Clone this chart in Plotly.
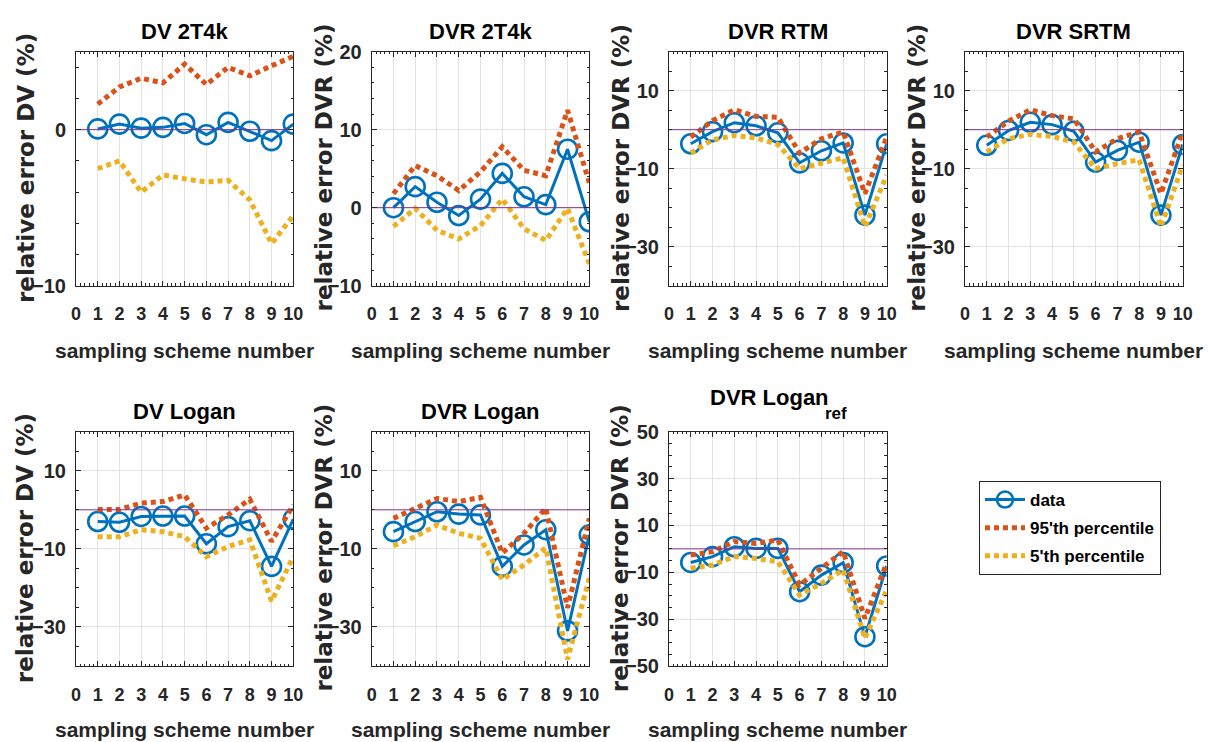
import plotly.graph_objects as go

# sampling scheme numbers on the x axis
schemes = [1, 2, 3, 4, 5, 6, 7, 8, 9, 10]
x_tick_vals = [0, 1, 2, 3, 4, 5, 6, 7, 8, 9, 10]

# DV 2T4k
dv_2t4k_data = [0.05, 0.36, 0.1, 0.15, 0.4, -0.32, 0.47, -0.1, -0.7, 0.36]
dv_2t4k_p95 = [1.64, 2.74, 3.3, 3.0, 4.2, 2.9, 4.0, 3.45, 4.1, 4.7]
dv_2t4k_p5 = [-2.5, -2.0, -4.0, -2.9, -3.15, -3.35, -3.25, -4.5, -7.3, -5.5]

# DVR 2T4k
dvr_2t4k_data = [0.0, 2.7, 0.7, -1.0, 1.1, 4.4, 1.4, 0.4, 7.5, -1.8]
dvr_2t4k_p95 = [1.8, 5.4, 4.1, 2.2, 4.6, 7.8, 4.8, 4.1, 12.5, 3.2]
dvr_2t4k_p5 = [-2.4, -0.1, -2.9, -4.0, -2.3, 1.1, -2.7, -4.2, -0.1, -7.2]

# DVR RTM
dvr_rtm_data = [-3.6, -0.5, 1.8, 1.0, -0.8, -8.5, -5.4, -3.4, -21.9, -3.6]
dvr_rtm_p95 = [-1.9, 2.3, 5.1, 3.4, 3.2, -6.0, -2.3, -0.6, -16.4, -1.9]
dvr_rtm_p5 = [-6.0, -2.6, -1.5, -2.1, -3.8, -10.0, -8.6, -7.2, -24.9, -11.7]

# DVR SRTM
dvr_srtm_data = [-4.0, -0.2, 1.9, 1.3, -0.4, -8.3, -5.3, -3.2, -21.9, -3.8]
dvr_srtm_p95 = [-1.9, 2.2, 5.1, 3.6, 2.8, -5.7, -2.3, -0.6, -16.4, -0.6]
dvr_srtm_p5 = [-5.7, -2.3, -1.2, -1.7, -3.2, -10.0, -8.7, -7.7, -24.9, -9.1]

# DV Logan
dv_logan_data = [-3.0, -3.2, -1.7, -1.6, -1.6, -8.7, -4.3, -2.8, -14.5, -2.4]
dv_logan_p95 = [0.1, 0.1, 1.7, 2.1, 3.8, -4.7, -1.3, 2.7, -8.1, 1.2]
dv_logan_p5 = [-6.9, -6.9, -5.1, -5.6, -6.9, -12.0, -9.4, -7.7, -23.4, -12.0]

# DVR Logan
dvr_logan_data = [-5.6, -3.0, -0.5, -1.1, -1.3, -14.5, -9.0, -5.1, -31.0, -6.4]
dvr_logan_p95 = [-2.2, 0.4, 2.9, 2.1, 3.2, -11.1, -6.0, 0.4, -25.1, -2.2]
dvr_logan_p5 = [-9.2, -6.9, -3.9, -6.0, -7.3, -17.9, -14.1, -9.8, -38.3, -17.5]

# DVR Logan_ref
dvr_loganref_data = [-5.8, -3.3, 0.9, 0.2, 0.2, -18.3, -11.2, -5.9, -37.5, -7.3]
dvr_loganref_p95 = [-2.6, -1.2, 3.1, 2.3, 3.8, -15.4, -8.3, -1.2, -29.7, -6.0]
dvr_loganref_p5 = [-8.3, -6.9, -3.3, -4.1, -5.5, -19.7, -14.7, -9.0, -38.2, -17.6]

# axis settings per panel: y range, labelled y ticks, minor y step
yr_small = [-10, 5]
yt_small = [-10, 0]
yr_2t4k = [-10, 20]
yt_2t4k = [-10, 0, 10, 20]
yr_mid = [-40, 20]
yt_mid = [-30, -10, 10]
yr_wide = [-50, 50]
yt_wide = [-50, -30, -10, 10, 30, 50]

# (title, subscript, y label, series..., y range, y ticks, minor y step)
panels = [
    ("DV 2T4k", "", "relative error DV (%)", dv_2t4k_data, dv_2t4k_p95, dv_2t4k_p5,
     yr_small, yt_small, 2),
    ("DVR 2T4k", "", "relative error DVR (%)", dvr_2t4k_data, dvr_2t4k_p95, dvr_2t4k_p5,
     yr_2t4k, yt_2t4k, 2),
    ("DVR RTM", "", "relative error DVR (%)", dvr_rtm_data, dvr_rtm_p95, dvr_rtm_p5,
     yr_mid, yt_mid, 5),
    ("DVR SRTM", "", "relative error DVR (%)", dvr_srtm_data, dvr_srtm_p95, dvr_srtm_p5,
     yr_mid, yt_mid, 5),
    ("DV Logan", "", "relative error DV (%)", dv_logan_data, dv_logan_p95, dv_logan_p5,
     yr_mid, yt_mid, 5),
    ("DVR Logan", "", "relative error DVR (%)", dvr_logan_data, dvr_logan_p95, dvr_logan_p5,
     yr_mid, yt_mid, 5),
    ("DVR Logan", "ref", "relative error DVR (%)", dvr_loganref_data, dvr_loganref_p95,
     dvr_loganref_p5, yr_wide, yt_wide, 5),
]

W, H = 1210, 742
BLUE, ORANGE, YELLOW, PURPLE = "#0072BD", "#D95319", "#EDB120", "#7E2F8E"
INK = "#262626"
FONT = "Liberation Sans, Arial, sans-serif"

# axes boxes in pixels
col_px = [(76, 293.3), (371.7, 589.3), (669, 886.7), (965, 1182.7)]
row_px = [(51.7, 285.7), (431.7, 666)]
ylabel_base = [33.3, 331.7, 628.3, 925]


def fx(p):
    return p / W


def fy(p):
    return 1 - p / H


fig = go.Figure()
annotations = []

for i, (title, sub, ylab, data, p95, p5, yrange, yticks, ystep) in enumerate(panels):
    r, c = (0, i) if i < 4 else (1, i - 4)
    x0, x1 = col_px[c]
    y0, y1 = row_px[r]
    n = "" if i == 0 else str(i + 1)
    xa, ya = "x" + n, "y" + n
    first = i == 0

    fig.add_trace(go.Scatter(
        x=schemes, y=data, name="data", mode="lines+markers", xaxis=xa, yaxis=ya,
        line=dict(color=BLUE, width=3),
        marker=dict(symbol="circle-open", size=19, color=BLUE, line=dict(width=2.6, color=BLUE)),
        showlegend=first, legendgroup="data", hoverinfo="skip"))
    fig.add_trace(go.Scatter(
        x=schemes, y=p95, name="95'th percentile", mode="lines", xaxis=xa, yaxis=ya,
        line=dict(color=ORANGE, width=5, dash="5px,4px"),
        showlegend=first, legendgroup="p95", hoverinfo="skip"))
    fig.add_trace(go.Scatter(
        x=schemes, y=p5, name="5'th percentile", mode="lines", xaxis=xa, yaxis=ya,
        line=dict(color=YELLOW, width=5, dash="5px,4px"),
        showlegend=first, legendgroup="p5", hoverinfo="skip"))
    # zero reference line
    fig.add_trace(go.Scatter(
        x=[x_tick_vals[0], x_tick_vals[-1]], y=[0, 0], mode="lines", xaxis=xa, yaxis=ya,
        line=dict(color=PURPLE, width=1), showlegend=False, hoverinfo="skip"))

    common = dict(
        showline=True, linecolor=INK, linewidth=1, mirror="allticks",
        ticks="inside", ticklen=5, tickcolor=INK, tickwidth=1,
        showgrid=True, gridcolor="#E3E3E3", gridwidth=1, zeroline=False, automargin=False,
    )
    fig.layout["xaxis" + n] = dict(
        domain=[fx(x0), fx(x1)], anchor=ya, range=[0, 10],
        tickmode="array", tickvals=x_tick_vals, ticklabelstandoff=12,
        tickfont=dict(family=FONT, size=18, color=INK, weight="bold"),
        minor=dict(tickmode="linear", tick0=0, dtick=0.2, ticks="inside", ticklen=2.5,
                   tickcolor=INK, showgrid=False),
        **common)
    fig.layout["yaxis" + n] = dict(
        domain=[fy(y1), fy(y0)], anchor=xa, range=yrange,
        tickmode="array", tickvals=yticks, ticklabelstandoff=5,
        tickfont=dict(family=FONT, size=20, color=INK, weight="bold"),
        minor=dict(tickmode="linear", tick0=0, dtick=ystep, ticks="inside", ticklen=2.5,
                   tickcolor=INK, showgrid=False),
        **common)

    cx = (x0 + x1) / 2
    title_font = dict(family=FONT, size=22, color="black", weight="bold")
    if sub:
        # main title sits higher, subscript hangs down to the common title baseline
        annotations.append(dict(
            text=title, x=fx(cx + 53), y=fy(397.5), xref="paper", yref="paper",
            xanchor="right", yanchor="middle", showarrow=False, font=title_font))
        annotations.append(dict(
            text=sub, x=fx(cx + 45), y=fy(413), xref="paper", yref="paper",
            xanchor="left", yanchor="middle", showarrow=False,
            font=dict(family=FONT, size=17, color="black", weight="bold")))
    else:
        annotations.append(dict(
            text=title, x=fx(cx), y=fy(32 if r == 0 else 411.4), xref="paper", yref="paper",
            xanchor="center", yanchor="middle", showarrow=False, font=title_font))
    annotations.append(dict(
        text="sampling scheme number", x=fx(cx), y=fy(350.7 if r == 0 else 729.5),
        xref="paper", yref="paper", xanchor="center", yanchor="middle", showarrow=False,
        font=dict(family=FONT, size=21, color=INK, weight="bold")))
    annotations.append(dict(
        text=ylab, x=fx(ylabel_base[c] - 0.346 * 23), y=fy((y0 + y1) / 2 - 1),
        xref="paper", yref="paper", xanchor="center", yanchor="middle", textangle=-90,
        showarrow=False,
        font=dict(family="DejaVu Sans, sans-serif", size=23, color=INK, weight="bold")))

fig.update_layout(
    width=W, height=H, margin=dict(l=0, r=0, t=0, b=0, pad=0, autoexpand=False),
    paper_bgcolor="white", plot_bgcolor="white",
    annotations=annotations,
    showlegend=True,
    legend=dict(
        x=fx(979), y=fy(481), xanchor="left", yanchor="top",
        bgcolor="white", bordercolor=INK, borderwidth=1,
        font=dict(family=FONT, size=17, color="black", weight="bold"),
        traceorder="grouped", tracegroupgap=3, itemwidth=40,
    ),
)

# page body without default margin so the figure fills the window exactly
fig.write_html("out.html", post_script="document.body.style.margin='0';")
